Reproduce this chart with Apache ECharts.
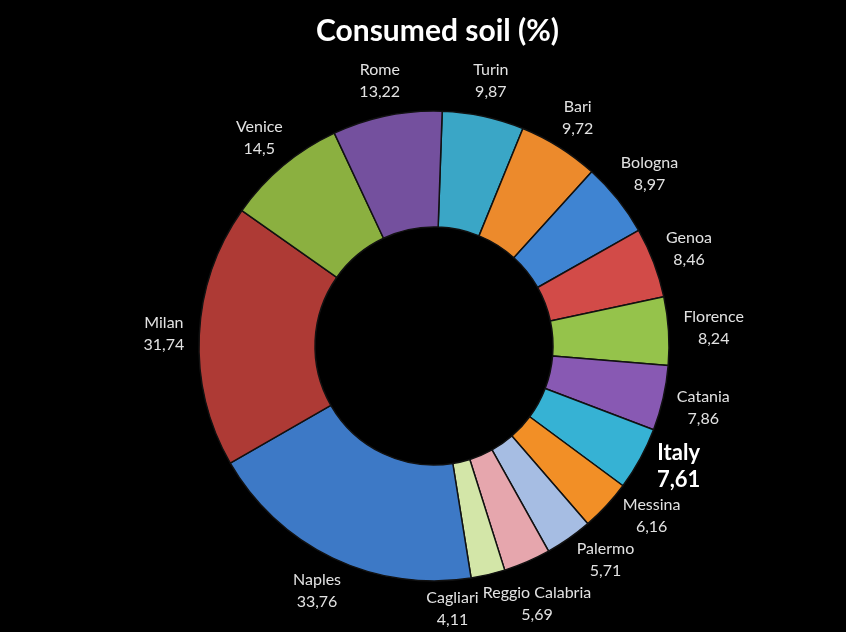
<!DOCTYPE html>
<html>
<head>
<meta charset="utf-8">
<script src="https://cdn.jsdelivr.net/npm/echarts@6/dist/echarts.min.js"></script>
<style>html,body{margin:0;padding:0;background:#000;}#c{width:846px;height:632px;}</style>
</head>
<body>
<div id="c"></div>
<script>
const titleText = 'Consumed soil (%)';
const cities = ['Turin','Bari','Bologna','Genoa','Florence','Catania','Italy','Messina','Palermo','Reggio Calabria','Cagliari','Naples','Milan','Venice','Rome'];
const values = [9.87,9.72,8.97,8.46,8.24,7.86,7.61,6.16,5.71,5.69,4.11,33.76,31.74,14.5,13.22];
const colors = ['#3aa6c6','#ec8a2c','#3f84d2','#d24b48','#95c34b','#8859b3','#36b2d4','#f28f26','#a6bde3','#e6a6ad','#d3e6a8','#3d79c6','#ae3a35','#8bb040','#74509e'];
const highlight = 'Italy';

const W = 846, H = 632;
const CX = 434, CY = 346, R = 235, RI = 119, START = 88, GAP = 14;
const FONT = 16, LH = 22, FONT_B = 22, LH_B = 27;
const total = values.reduce((a,b)=>a+b,0);
const cum = [];
values.reduce((a,v,i)=>{cum[i]=a; return a+v;},0);
const fmt = v => String(v).replace('.', ',');

// measure label boxes
const ctx = document.createElement('canvas').getContext('2d');
const boxes = cities.map((n, i) => {
  const bold = n === highlight;
  ctx.font = (bold ? 'bold ' : '') + (bold ? FONT_B : FONT) + 'px Lato';
  const w = Math.max(ctx.measureText(n).width, ctx.measureText(fmt(values[i])).width);
  return {w: w + 2, h: 2 * (bold ? LH_B : LH)};
});
const off = (90 - START) * Math.PI / 180;
const ang = values.map((v, i) => off + (cum[i] + v / 2) / total * 2 * Math.PI);
function pos(i) {
  const s = Math.sin(ang[i]), c = -Math.cos(ang[i]);
  const r = R + GAP + Math.hypot(s * boxes[i].w / 2, c * boxes[i].h / 2);
  const y = Math.min(CY + r * c, H - boxes[i].h / 2 - 1);
  return [CX + r * s, y];
}
// simple relaxation so neighbouring labels do not collide
for (let it = 0; it < 800; it++) {
  for (let i = 0; i < cities.length; i++) {
    const j = (i + 1) % cities.length;
    const p = pos(i), q = pos(j);
    if (Math.abs(p[0] - q[0]) < (boxes[i].w + boxes[j].w) / 2 + 2 &&
        Math.abs(p[1] - q[1]) < (boxes[i].h + boxes[j].h) / 2) {
      ang[i] -= 0.002; ang[j] += 0.002;
    }
  }
}

const chart = echarts.init(document.getElementById('c'));
chart.setOption({
  backgroundColor: '#000',
  animation: false,
  title: {
    text: titleText, left: 311, top: 11,
    textStyle: {color: '#fff', fontFamily: 'Lato', fontWeight: 'bold', fontSize: 30}
  },
  series: [{
    type: 'pie',
    center: [CX, CY],
    radius: [RI, R],
    startAngle: START,
    clockwise: true,
    avoidLabelOverlap: false,
    itemStyle: {borderColor: '#111', borderWidth: 1.5},
    label: {
      show: true, position: 'outside',
      color: '#e2e2e2', fontFamily: 'Lato', fontSize: FONT, lineHeight: LH,
      align: 'center',
      formatter: p => p.name + '\n' + fmt(p.value)
    },
    labelLine: {show: false},
    labelLayout: function (p) {
      const xy = pos(p.dataIndex);
      return {x: xy[0], y: xy[1], align: 'center', verticalAlign: 'middle'};
    },
    data: cities.map((n, i) => {
      const d = {name: n, value: values[i], itemStyle: {color: colors[i]}};
      if (n === highlight) d.label = {color: '#fff', fontWeight: 'bold', fontSize: FONT_B, lineHeight: LH_B};
      return d;
    })
  }]
});
</script>
</body>
</html>
